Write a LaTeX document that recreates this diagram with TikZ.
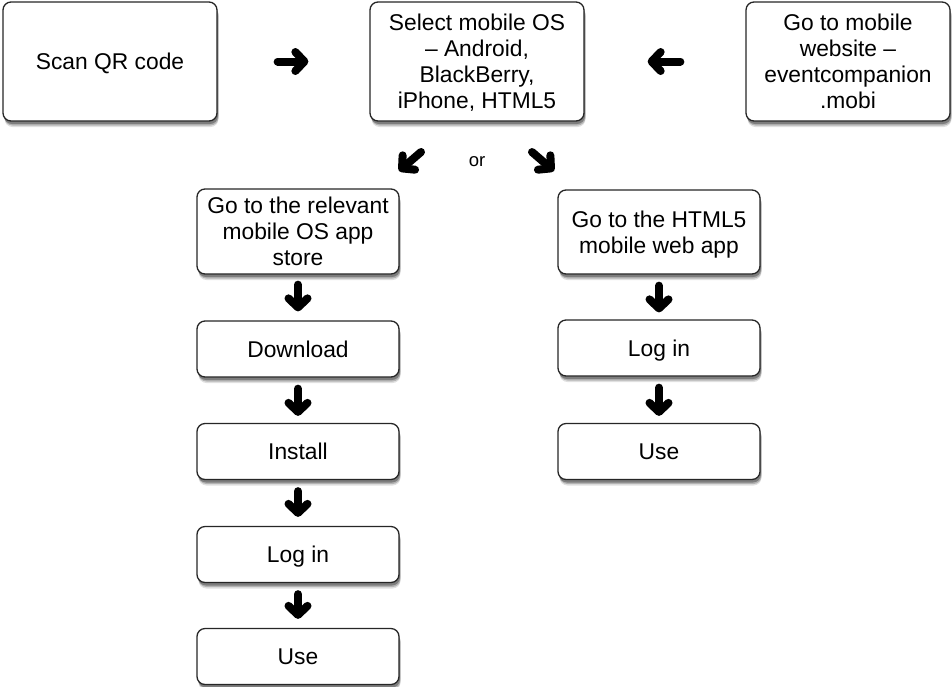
\documentclass[tikz,border=0pt]{standalone}
\usepackage{fontspec}
\setmainfont{Liberation Sans}
\usetikzlibrary{arrows.meta,shadows,calc}
\tikzset{
  box/.style={draw=black!85, line width=1.3pt, rounded corners=8pt, fill=white,
    align=center, inner sep=0pt, font=\fontsize{22.8}{26}\selectfont,
    text depth=0pt,
    general shadow={shadow xshift=1.5pt, shadow yshift=-6pt, fill=black, opacity=0.12},
    general shadow={shadow xshift=1.5pt, shadow yshift=-4.5pt, fill=black, opacity=0.2},
    general shadow={shadow xshift=1pt, shadow yshift=-3pt, fill=black, opacity=0.3}},
  wide/.style={box, minimum width=214pt, minimum height=119pt},
  col/.style={box, minimum width=202pt},
  bigarr/.style={line width=8pt, line cap=round, black,
    -{Straight Barb[length=9pt, width=19pt, round]}},
}
\begin{document}
\begin{tikzpicture}[x=1pt,y=-1pt]
\useasboundingbox (0,0) rectangle (952,686);
% top row
\node[wide] (scan) at (110,61.5) {Scan QR code};
\node[wide] (select) at (477,61.5) {Select mobile OS\\– Android,\\BlackBerry,\\iPhone, HTML5};
\node[box, minimum width=204pt, minimum height=119pt] (web) at (848,61.5) {Go to mobile\\website –\\eventcompanion\\.mobi};
% left column
\node[col, minimum height=85pt] (store) at (298,231.5) {Go to the relevant\\mobile OS app\\store};
\node[col, minimum height=56pt] (dl) at (298,349) {Download};
\node[col, minimum height=56pt] (inst) at (298,451.5) {Install};
\node[col, minimum height=56pt] (login1) at (298,554.5) {Log in};
\node[col, minimum height=56pt] (use1) at (298,656.5) {Use};
% right column
\node[col, minimum height=84pt] (html) at (659,232) {Go to the HTML5\\mobile web app};
\node[col, minimum height=56pt] (login2) at (659,348) {Log in};
\node[col, minimum height=56pt] (use2) at (659,451.5) {Use};
% or
\node[font=\fontsize{18.5}{20}\selectfont] (or) at (477,162) {or};
% arrows top
\draw[bigarr, shorten <=60pt, shorten >=61pt] (scan) -- (select);
\draw[bigarr, shorten <=65pt, shorten >=63pt] (web) -- (select);
% diagonal arrows
\coordinate (d1s) at (421,152);
\coordinate (d1e) at (399,171);
\coordinate (d2s) at (532,152);
\coordinate (d2e) at (554,171);
\draw[bigarr] (d1s) -- (d1e);
\draw[bigarr] (d2s) -- (d2e);
% down arrows
\draw[bigarr, shorten <=10pt, shorten >=9pt] (store) -- (dl);
\draw[bigarr, shorten <=11pt, shorten >=7pt] (dl) -- (inst);
\draw[bigarr, shorten <=11pt, shorten >=9pt] (inst) -- (login1);
\draw[bigarr, shorten <=11pt, shorten >=9pt] (login1) -- (use1);
\draw[bigarr, shorten <=11pt, shorten >=7pt] (html) -- (login2);
\draw[bigarr, shorten <=11pt, shorten >=7pt] (login2) -- (use2);
\end{tikzpicture}
\end{document}
